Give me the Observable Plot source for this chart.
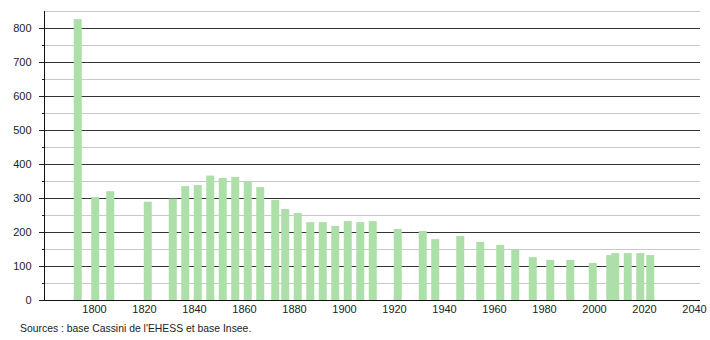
<!DOCTYPE html>
<html>
<head>
<meta charset="utf-8">
<script src="https://cdn.jsdelivr.net/npm/d3@7"></script>
<script src="https://cdn.jsdelivr.net/npm/@observablehq/plot@0.6"></script>
<style>
  html, body { margin: 0; padding: 0; background: #fff; }
  #chart svg { display: block; }
  .caption { font-family: "Liberation Sans", Arial, sans-serif; font-size: 10.4px; color: #222; margin: 5px 0 0 20px; }
</style>
</head>
<body>
<div id="chart"></div>
<div class="caption">Sources : base Cassini de l'EHESS et base Insee.</div>
<script>
const years = [1793,1800,1806,1821,1831,1836,1841,1846,1851,1856,1861,1866,1872,1876,1881,1886,1891,1896,1901,1906,1911,1921,1931,1936,1946,1954,1962,1968,1975,1982,1990,1999,2006,2008,2013,2018,2022];
const population = [826,303,320,289,298,335,338,366,359,362,350,332,294,268,256,229,229,218,232,229,232,209,203,179,188,171,162,149,126,118,118,109,132,138,138,138,132];
const majorTicks = [0,100,200,300,400,500,600,700,800];
const minorTicks = [50,150,250,350,450,550,650,750,850];
const xTicks = [1800,1820,1840,1860,1880,1900,1920,1940,1960,1980,2000,2020,2040];

const data = years.map((y, i) => ({year: y, pop: population[i]}));
const halfBar = 1.6;
const offset = 0.5;

const chart = Plot.plot({
  width: 710,
  height: 318,
  marginLeft: 44,
  marginRight: 10,
  marginTop: 11,
  marginBottom: 18,
  style: {fontFamily: "'Liberation Sans', Arial, sans-serif", fontSize: "11px", color: "#222"},
  x: {domain: [1780, 2042.4], axis: null},
  y: {domain: [0, 850], axis: null},
  marks: [
    Plot.ruleY(minorTicks, {stroke: "#c8c8c8", strokeWidth: 1}),
    Plot.ruleY(majorTicks.filter(d => d > 0), {stroke: "#333", strokeWidth: 1}),
    Plot.rectY(data, {x1: d => d.year + offset - halfBar, x2: d => d.year + offset + halfBar, y: "pop", fill: "#addfa8"}),
    Plot.axisY(minorTicks.slice(0, -1), {tickSize: 2, tickFormat: () => "", stroke: "#222", label: null}),
    Plot.axisY(majorTicks, {tickSize: 5, tickPadding: 8, stroke: "#222", fill: "#222", label: null}),
    Plot.ruleX([1780], {y1: 0, y2: 850, stroke: "#111"}),
    Plot.ruleY([0], {stroke: "#111"}),
    Plot.axisX(xTicks, {tickSize: 0, tickPadding: 5, tickFormat: d => String(d), fill: "#222", label: null})
  ]
});
document.getElementById("chart").appendChild(chart);
</script>
</body>
</html>
